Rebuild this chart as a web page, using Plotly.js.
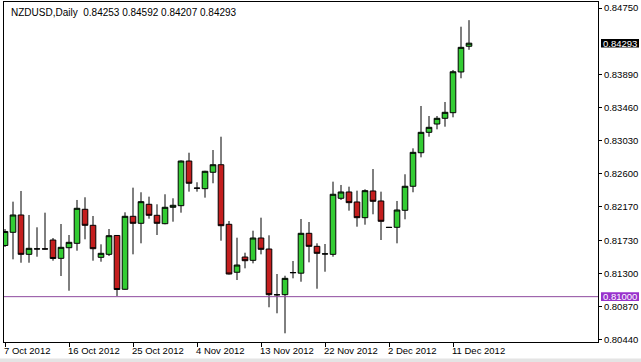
<!DOCTYPE html>
<html><head><meta charset="utf-8">
<script src="https://cdn.plot.ly/plotly-3.0.1.min.js"></script>
<style>html,body{margin:0;padding:0;background:#fff;}#chart{width:641px;height:362px;}</style>
</head><body><div id="chart"></div>
<script>
const symbol = 'NZDUSD';
const timeframe = 'Daily';
const dates = [
'2012-10-07','2012-10-08','2012-10-09','2012-10-10','2012-10-11','2012-10-12',
'2012-10-14','2012-10-15','2012-10-16','2012-10-17','2012-10-18','2012-10-19',
'2012-10-21','2012-10-22','2012-10-23','2012-10-24','2012-10-25','2012-10-26',
'2012-10-28','2012-10-29','2012-10-30','2012-10-31','2012-11-01','2012-11-02',
'2012-11-04','2012-11-05','2012-11-06','2012-11-07','2012-11-08','2012-11-09',
'2012-11-11','2012-11-12','2012-11-13','2012-11-14','2012-11-15','2012-11-16',
'2012-11-18','2012-11-19','2012-11-20','2012-11-21','2012-11-22','2012-11-23',
'2012-11-25','2012-11-26','2012-11-27','2012-11-28','2012-11-29','2012-11-30',
'2012-12-02','2012-12-03','2012-12-04','2012-12-05','2012-12-06','2012-12-07',
'2012-12-09','2012-12-10','2012-12-11','2012-12-12','2012-12-13'];
const open = [
0.81665,0.81836,0.82061,0.81550,0.81619,0.81621,0.81736,0.81498,0.81636,0.81693,
0.82135,0.81927,0.81511,0.81550,0.81795,0.81096,0.82044,0.81953,0.82200,0.82057,
0.81948,0.82161,0.82182,0.82762,0.82408,0.82403,0.82616,0.82714,0.81940,0.81317,
0.81515,0.81472,0.81762,0.81619,0.81026,0.81026,0.81311,0.81305,0.81823,0.81654,
0.81554,0.81550,0.82278,0.82360,0.82230,0.82026,0.82373,0.82243,0.81901,0.81901,
0.82122,0.82434,0.82870,0.83135,0.83243,0.83317,0.83390,0.83919,0.84253];
const high = [
0.81879,0.82234,0.82373,0.82061,0.81901,0.82091,0.81762,0.81944,0.81801,0.82256,
0.82291,0.82048,0.81680,0.81879,0.81800,0.82096,0.82416,0.82356,0.82299,0.82200,
0.82330,0.82278,0.82770,0.82870,0.82486,0.82635,0.82905,0.83078,0.81983,0.81766,
0.81571,0.81857,0.82026,0.81797,0.81294,0.81272,0.81463,0.82009,0.81970,0.81693,
0.81684,0.82494,0.82451,0.82429,0.82377,0.82395,0.82658,0.82364,0.81905,0.82243,
0.82590,0.82927,0.83477,0.83347,0.83347,0.83529,0.83945,0.84507,0.84592];
const low = [
0.81645,0.81485,0.81441,0.81441,0.81519,0.81615,0.81467,0.81268,0.81077,0.81597,
0.81745,0.81467,0.81454,0.81528,0.81009,0.81090,0.81550,0.81693,0.82013,0.81801,
0.81940,0.81974,0.82091,0.82364,0.82364,0.82286,0.82473,0.81727,0.81288,0.81216,
0.81368,0.81433,0.81550,0.80862,0.80784,0.80524,0.81238,0.81194,0.81446,0.81103,
0.81324,0.81519,0.82256,0.82117,0.81909,0.81935,0.82070,0.81736,0.81895,0.81693,
0.82005,0.82356,0.82810,0.83078,0.83174,0.83208,0.83330,0.83837,0.84207];
const close = [
0.81847,0.82061,0.81550,0.81628,0.81621,0.81619,0.81496,0.81641,0.81706,0.82148,
0.81927,0.81623,0.81563,0.81792,0.81093,0.82044,0.81953,0.82234,0.82057,0.81953,
0.82161,0.82187,0.82762,0.82473,0.82410,0.82629,0.82714,0.81922,0.81294,0.81411,
0.81467,0.81762,0.81615,0.81026,0.81024,0.81238,0.81313,0.81823,0.81654,0.81563,
0.81556,0.82330,0.82360,0.82221,0.82026,0.82377,0.82239,0.81979,0.81899,0.82126,
0.82434,0.82875,0.83135,0.83200,0.83317,0.83395,0.83922,0.84239,0.84293];
const tickDates = ['2012-10-07','2012-10-16','2012-10-25','2012-11-04','2012-11-13','2012-11-22','2012-12-02','2012-12-11'];
const tickLabels = ['7 Oct 2012','16 Oct 2012','25 Oct 2012','4 Nov 2012','13 Nov 2012','22 Nov 2012','2 Dec 2012','11 Dec 2012'];
const priceTicks = [0.84750,0.83890,0.83460,0.83030,0.82600,0.82170,0.81730,0.81300,0.80870,0.80440];
const levelPrice = 0.81000;

const FONT = 'Liberation Sans, Arial, sans-serif';
const yRange = [0.80411, 0.84828];
const plotH = 340;
const pxP = (yRange[1]-yRange[0])/plotH;
const last = close.length - 1;
const lastPrice = close[last];

const trace = {
  type: 'candlestick',
  x: dates, open: open, high: high, low: low, close: close,
  increasing: {line: {color: '#000000', width: 1}, fillcolor: '#33CC33'},
  decreasing: {line: {color: '#000000', width: 1}, fillcolor: '#C41E1E'},
  whiskerwidth: 0,
  hoverinfo: 'skip'
};

function tagShape(v, color) {
  return {type:'rect', xref:'paper', yref:'y', x0:(601-4)/594, x1:(639-4)/594,
    y0: v - 4.3*pxP, y1: v + 4.3*pxP, fillcolor: color, line:{width:0}, layer:'above'};
}
function tagText(v) {
  return {xref:'paper', yref:'y', x:(620-4)/594, y:v, xanchor:'center', yanchor:'middle',
    text: v.toFixed(5), showarrow:false, font:{family:FONT, size:9.5, color:'#ffffff'}};
}

const layout = {
  width: 641, height: 362,
  margin: {l: 4, r: 43, t: 2, b: 20},
  paper_bgcolor: '#ffffff', plot_bgcolor: '#ffffff',
  showlegend: false, hovermode: false,
  boxgap: 0, boxgroupgap: 0.3,
  xaxis: {
    type: 'category', range: [-0.125, 74.125], rangeslider: {visible: false},
    tickmode: 'array', tickvals: tickDates, ticktext: tickLabels,
    ticks: 'outside', ticklen: 4, tickcolor: '#000', tickwidth: 1,
    ticklabelposition: 'outside right', ticklabelshift: -2,
    showline: true, linecolor: '#000', linewidth: 1, mirror: true,
    showgrid: false, zeroline: false, fixedrange: true,
    tickfont: {family: FONT, size: 9.5, color: '#000'}
  },
  yaxis: {
    side: 'right', range: yRange,
    tickmode: 'array', tickvals: priceTicks, ticktext: priceTicks.map(v => v.toFixed(5)),
    ticks: 'outside', ticklen: 3, tickcolor: '#000', tickwidth: 1,
    showline: true, linecolor: '#000', linewidth: 1, mirror: true,
    showgrid: false, zeroline: false, fixedrange: true,
    tickfont: {family: FONT, size: 9.5, color: '#000'}
  },
  shapes: [
    {type:'line', xref:'paper', yref:'y', x0:0, x1:1, y0:levelPrice, y1:levelPrice,
     line:{color:'#8E4A9E', width:1}},
    tagShape(lastPrice, '#000000'),
    tagShape(levelPrice, '#9932CC'),
    {type:'rect', xref:'paper', yref:'paper', x0:-4/594, x1:637/594, y0:-20/340, y1:-16.5/340,
     fillcolor:'#e4e4e4', line:{width:0}}
  ],
  annotations: [
    {xref:'paper', yref:'paper', x:(9-4)/594, y:1-(13-2)/340, xanchor:'left', yanchor:'middle',
     showarrow:false, font:{family:FONT, size:10, color:'#000'},
     text: symbol + ',' + timeframe + '\u00a0\u00a0' + [open[last], high[last], low[last], close[last]].map(v => v.toFixed(5)).join(' ')},
    tagText(lastPrice),
    tagText(levelPrice)
  ]
};

Plotly.newPlot('chart', [trace], layout, {displayModeBar: false, staticPlot: true});
</script>
</body></html>
